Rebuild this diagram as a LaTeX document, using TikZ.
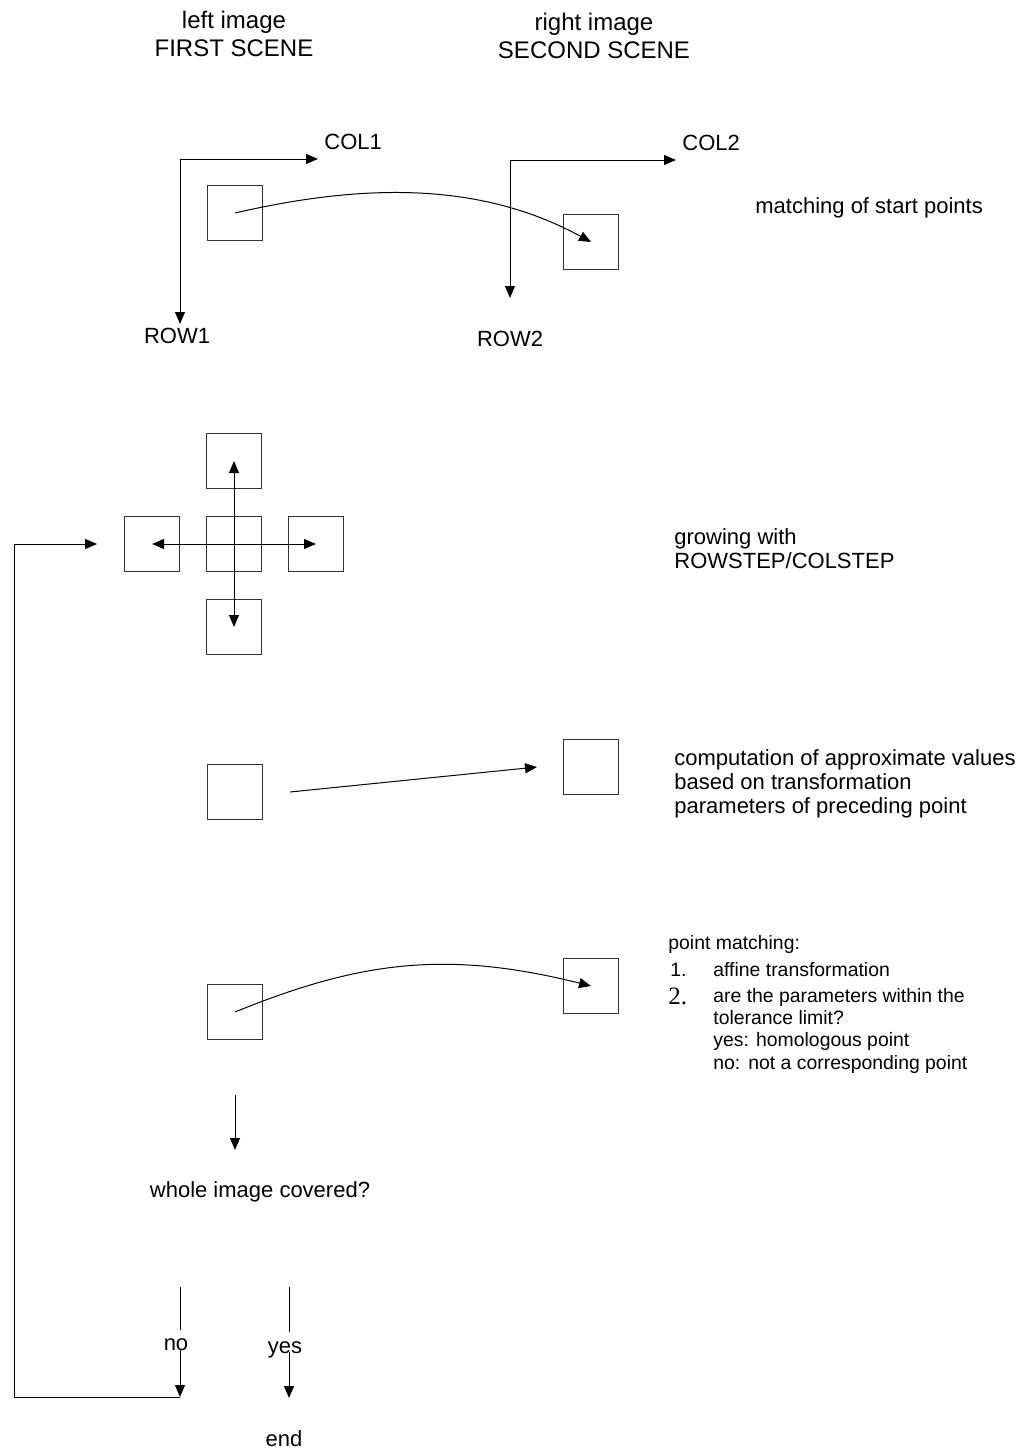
\documentclass[tikz,border=0pt]{standalone}
\usepackage{fontspec}
\setmainfont{Liberation Sans}
\newfontfamily\numfont{Liberation Serif}
\usetikzlibrary{arrows.meta}
\tikzset{
  win/.style={draw=black!80, line width=0.5pt, minimum size=27.5pt, inner sep=0pt},
  lbl/.style={inner sep=0pt, font=\fontsize{11}{12}\selectfont},
  ttl/.style={inner sep=0pt, align=center, font=\fontsize{12}{14}\selectfont},
  small/.style={inner sep=0pt, anchor=west, font=\fontsize{9.7}{11}\selectfont},
  arr/.style={-{Triangle[length=6pt,width=5pt]}, line width=0.5pt},
  darr/.style={{Triangle[length=6pt,width=5pt]}-{Triangle[length=6pt,width=5pt]}, line width=0.5pt},
}

\begin{document}
\begin{tikzpicture}[x=0.5pt,y=-0.5pt]
  \useasboundingbox (0,0) rectangle (1021,1451);
  % titles
  \node[ttl] (titleL) at (234,34) {left image\\FIRST SCENE};
  \node[ttl] (titleR) at (594,36) {right image\\SECOND SCENE};
  % first step: start points
  \coordinate (o1) at (180,159);
  \coordinate (c1) at (318,159);
  \coordinate (r1) at (180,324);
  \draw[arr] (o1) -- (c1);
  \draw[arr] (o1) -- (r1);
  \node[lbl, anchor=west] (col1) at (324,142) {COL1};
  \node[lbl] (row1) at (177,336) {ROW1};
  \coordinate (o2) at (510,160);
  \coordinate (c2) at (676,160);
  \coordinate (r2) at (510,298);
  \draw[arr] (o2) -- (c2);
  \draw[arr] (o2) -- (r2);
  \node[lbl, anchor=west] (col2) at (682,143) {COL2};
  \node[lbl] (row2) at (510,339) {ROW2};
  \node[win] (s1) at (235,213) {};
  \node[win] (s2) at (591,242) {};
  \draw[arr] (s1.center) .. controls (365,183) and (481,182) .. (s2.center);
  \node[lbl, anchor=west] (tstart) at (755,208) {matching of start points};
  % second step: growing
  \node[win] (g0) at (234,544) {};
  \node[win] (gu) at (234,461) {};
  \node[win] (gd) at (234,627) {};
  \node[win] (gl) at (152,544) {};
  \node[win] (gr) at (316,544) {};
  \draw[darr] (gl.center) -- (gr.center);
  \draw[darr] (gu.center) -- (gd.center);
  \node[lbl, anchor=west, align=left] (tgrow) at (674,549) {growing with\\ROWSTEP/COLSTEP};
  % third step: approximate values
  \node[win] (a1) at (235,792) {};
  \node[win] (a2) at (591,767) {};
  \draw[arr] ([xshift=13.5pt]a1.east) -- ([xshift=-13pt]a2.west);
  \node[lbl, anchor=west, align=left] (tapprox) at (674,784) {computation of approximate values\\based on transformation\\parameters of preceding point};
  % fourth step: point matching
  \node[win] (m1) at (235,1012) {};
  \node[win] (m2) at (591,986) {};
  \draw[arr] (m1.center) .. controls (360,961) and (447,950) .. (m2.center);
  \node[small] (pm0) at (668,944) {point matching:};
  \node[small] (pm1n) at (670,970) {1.};
  \node[small] (pm1) at (713,970) {affine transformation};
  \node[small, font=\fontsize{12.5}{13}\numfont] (pm2n) at (668,996) {2.};
  \node[small] (pm2) at (713,997) {are the parameters within the};
  \node[small] (pm3) at (713,1018) {tolerance limit?};
  \node[small] (pm4) at (713,1041) {yes: homologous point};
  \node[small] (pm5) at (713,1064) {no:\hspace{4pt}not a corresponding point};
  % covered?
  \coordinate (d0) at (235,1095);
  \coordinate (d1) at (235,1150);
  \draw[arr] (d0) -- (d1);
  \node[lbl] (tcover) at (260,1192) {whole image covered?};
  % no / yes
  \node[lbl] (tno) at (176,1345) {no};
  \coordinate (no0) at (180,1287);
  \coordinate (no1) at (180,1330);
  \coordinate (no2) at (180,1350);
  \coordinate (no3) at (180,1397);
  \draw[line width=0.5pt] (no0) -- (no1);
  \draw[arr] (no2) -- (no3);
  \node[lbl] (tyes) at (285,1350) {yes};
  \coordinate (yes0) at (289,1287);
  \coordinate (yes1) at (289,1332);
  \coordinate (yes2) at (289,1352);
  \coordinate (yes3) at (289,1398);
  \draw[line width=0.5pt] (yes0) -- (yes1);
  \draw[arr] (yes2) -- (yes3);
  \node[lbl] (tend) at (284,1439) {end};
  % back to growing
  \coordinate (back0) at (14,1397);
  \coordinate (back1) at (97,544);
  \draw[arr] (no3) -- (back0) |- (back1);
\end{tikzpicture}
\end{document}
